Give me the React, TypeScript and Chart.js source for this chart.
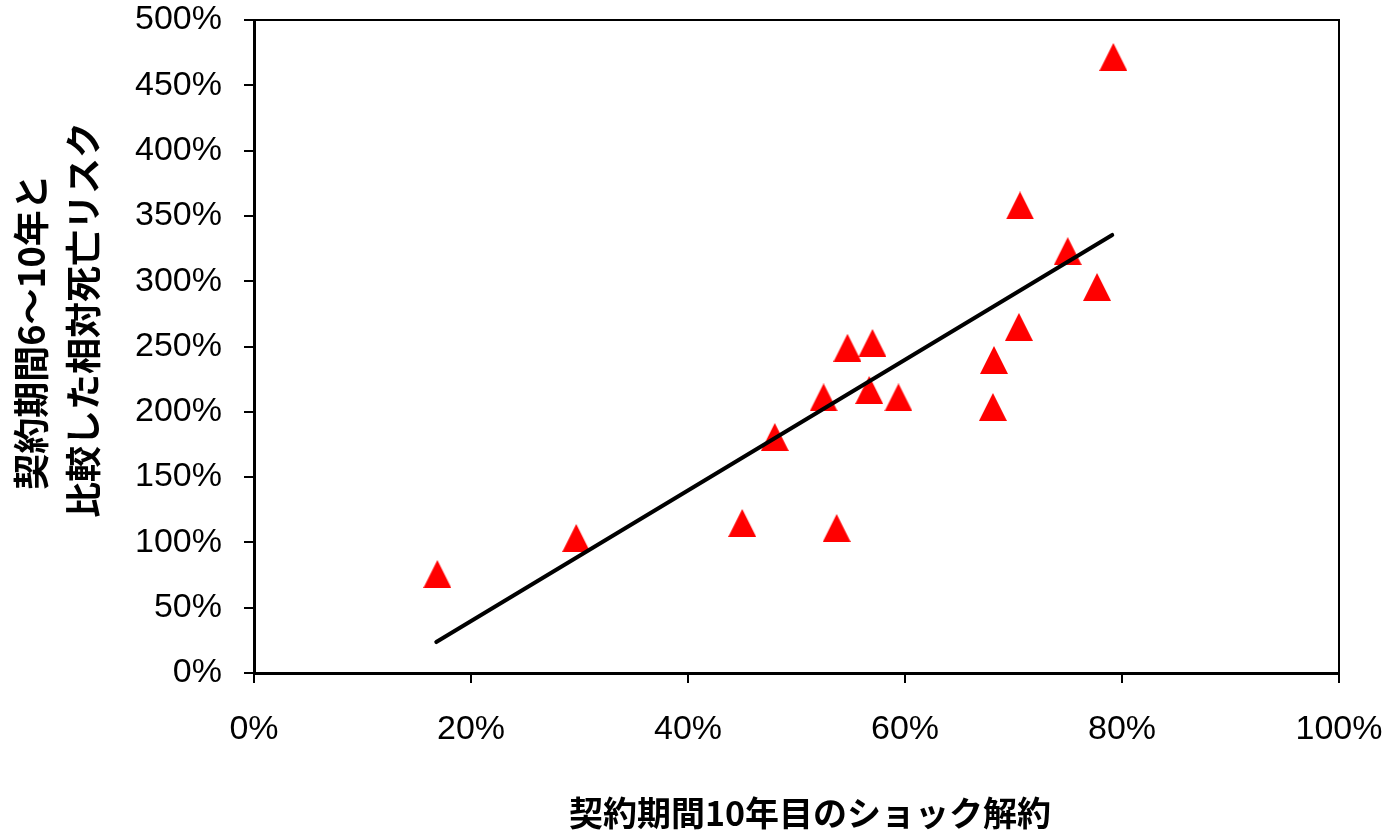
import React, { useEffect, useRef } from 'react';
import { Chart, registerables } from 'chart.js';

Chart.register(...registerables);

// Data (percent values)
const shockLapseX = [16.9, 29.7, 45.0, 48.0, 52.5, 53.7, 54.7, 57.0, 56.7, 59.4, 68.2, 68.1, 70.5, 70.6, 75.0, 77.7, 79.2];
const relativeMortalityY = [75.8, 103.4, 114.9, 180.7, 211, 111, 249, 252.7, 216.7, 211, 239.7, 203.7, 265, 358, 323, 295.6, 471.7];
const trendX = [16.8, 79.1];
const trendY = [23.7, 335.4];
const xTickValues = [0, 20, 40, 60, 80, 100];
const yTickValues = [0, 50, 100, 150, 200, 250, 300, 350, 400, 450, 500];
const xTitle = '契約期間10年目のショック解約';
const yTitleLines = ['契約期間6～10年と', '比較した相対死亡リスク'];

function makeTriangle(): HTMLCanvasElement {
  const c = document.createElement('canvas');
  c.width = 28;
  c.height = 28;
  const ctx = c.getContext('2d')!;
  ctx.fillStyle = '#FF0000';
  ctx.beginPath();
  ctx.moveTo(14, 0);
  ctx.lineTo(28, 28);
  ctx.lineTo(0, 28);
  ctx.closePath();
  ctx.fill();
  return c;
}

const framePlugin = {
  id: 'frameAndTitles',
  afterDraw(chart: any) {
    const { ctx, chartArea } = chart;
    const { left, right, top, bottom } = chartArea;
    ctx.save();
    ctx.strokeStyle = '#000';
    ctx.lineWidth = 2;
    ctx.beginPath();
    ctx.moveTo(left, top);
    ctx.lineTo(right, top);
    ctx.lineTo(right, bottom);
    ctx.stroke();

    ctx.fillStyle = '#000';
    ctx.textAlign = 'center';
    ctx.textBaseline = 'middle';
    ctx.font = 'bold 34px "Noto Sans CJK JP", sans-serif';
    ctx.fillText(xTitle, 810, 813);

    ctx.font = 'bold 36px "Noto Sans CJK JP", sans-serif';
    const ys = [332, 320];
    const xs = [31, 83];
    yTitleLines.forEach((line, i) => {
      ctx.save();
      ctx.translate(xs[i], ys[i]);
      ctx.rotate(-Math.PI / 2);
      ctx.fillText(line, 0, 0);
      ctx.restore();
    });
    ctx.restore();
  },
};

export default function App() {
  const canvasRef = useRef<HTMLCanvasElement | null>(null);

  useEffect(() => {
    if (!canvasRef.current) return;
    const tri = makeTriangle();
    const tickFont = { family: '"Liberation Sans", Arial, sans-serif', size: 34 };
    const chart = new Chart(canvasRef.current, {
      type: 'scatter',
      data: {
        datasets: [
          {
            type: 'line',
            label: 'trend',
            data: trendX.map((x, i) => ({ x, y: trendY[i] })),
            borderColor: '#000000',
            borderWidth: 4,
            borderCapStyle: 'round',
            pointRadius: 0,
            fill: false,
            order: 0,
            clip: false,
          } as any,
          {
            label: 'points',
            data: shockLapseX.map((x, i) => ({ x, y: relativeMortalityY[i] })),
            pointStyle: tri as any,
            pointRadius: 14,
            backgroundColor: '#FF0000',
            borderColor: '#FF0000',
            order: 1,
            clip: false,
          } as any,
        ],
      },
      options: {
        animation: false,
        responsive: false,
        maintainAspectRatio: false,
        layout: { padding: { top: 20, right: 52, left: 0, bottom: 0 } },
        plugins: {
          legend: { display: false },
          tooltip: { enabled: false },
          title: { display: false },
        },
        scales: {
          x: {
            type: 'linear',
            min: 0,
            max: 100,
            afterBuildTicks: (scale: any) => {
              scale.ticks = xTickValues.map((v) => ({ value: v }));
            },
            afterFit: (scale: any) => {
              scale.height = 158;
              scale.paddingLeft = 0;
              scale.paddingRight = 0;
            },
            ticks: {
              callback: (v: any) => v + '%',
              color: '#000',
              font: tickFont,
              padding: 26,
              maxRotation: 0,
              autoSkip: false,
            },
            grid: {
              drawOnChartArea: false,
              drawTicks: true,
              tickLength: 10,
              color: '#000',
              lineWidth: 2,
            },
            border: { display: true, color: '#000', width: 3 },
          },
          y: {
            type: 'linear',
            min: 0,
            max: 500,
            afterBuildTicks: (scale: any) => {
              scale.ticks = yTickValues.map((v) => ({ value: v }));
            },
            afterFit: (scale: any) => {
              scale.width = 254;
              scale.paddingTop = 0;
              scale.paddingBottom = 0;
            },
            ticks: {
              callback: (v: any) => v + '%',
              color: '#000',
              font: tickFont,
              padding: 22,
              autoSkip: false,
            },
            grid: {
              drawOnChartArea: false,
              drawTicks: true,
              tickLength: 10,
              color: '#000',
              lineWidth: 2,
            },
            border: { display: true, color: '#000', width: 3 },
          },
        },
      } as any,
      plugins: [framePlugin],
    });
    return () => chart.destroy();
  }, []);

  return (
    <div style={{ position: 'fixed', left: 0, top: 0, width: 1391, height: 831, background: '#fff' }}>
      <canvas ref={canvasRef} width={1391} height={831} style={{ display: 'block', width: 1391, height: 831 }} />
    </div>
  );
}
